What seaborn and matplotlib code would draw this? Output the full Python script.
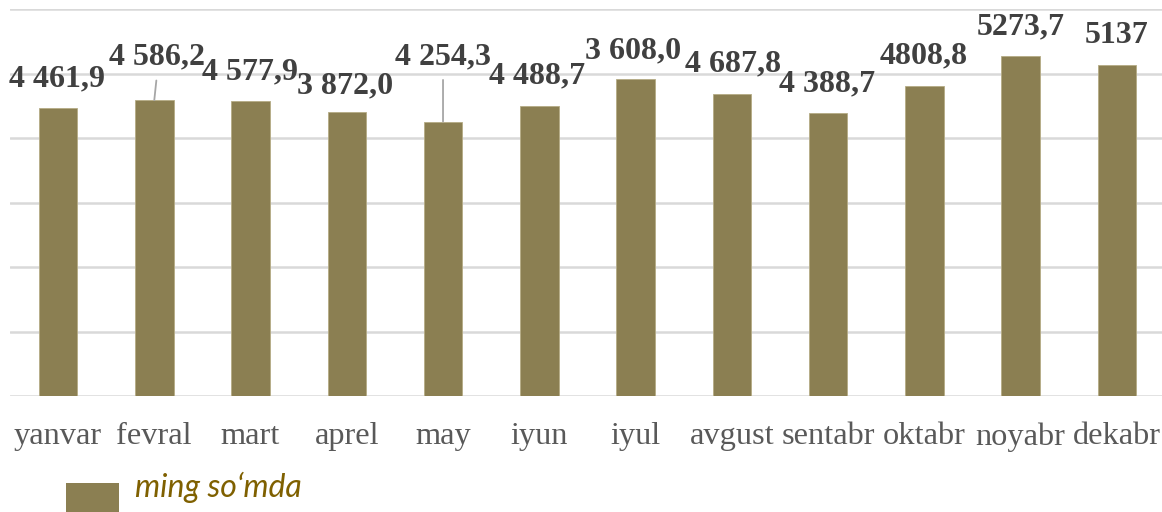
"""
Oylik ko'rsatkichlar (ming so'mda) ustunli diagrammasi.
"""
import matplotlib
matplotlib.use("Agg")
import matplotlib.pyplot as plt
from matplotlib.patches import Rectangle
import pandas as pd
import seaborn as sns

MONTHS = ["yanvar", "fevral", "mart", "aprel", "may", "iyun",
          "iyul", "avgust", "sentabr", "oktabr", "noyabr", "dekabr"]
# ustun balandliklari (rasmdan o'qilgan)
VALUES = [4461.9, 4586.2, 4577.9, 4397.0, 4254.3, 4488.7,
          4920.0, 4687.8, 4388.7, 4808.8, 5273.7, 5137.0]
# yozuvlar rasmdagidek
LABELS = ["4 461,9", "4 586,2", "4 577,9", "3 872,0", "4 254,3", "4 488,7",
          "3 608,0", "4 687,8", "4 388,7", "4808,8", "5273,7", "5137"]
SERIES = "ming so\u2018mda"

BAR_COLOR = "#8B7F52"
GRID_COLOR = "#D9D9D9"

# yozuvlarning ustun tepasidan siljishi (piksel)
LABEL_OFFSETS = [(-1, 29), (3, 43), (-1, 29), (-2, 26), (0, 65), (-2, 31),
                 (-2, 28), (1, 30), (-1, 29), (-1, 30), (0, 29), (0, 29)]
LEADERS = {1, 4}

df = pd.DataFrame({"oy": MONTHS, "qiymat": VALUES})

sns.set_theme(style="white")
plt.rcParams["font.family"] = ["Liberation Serif", "DejaVu Serif"]

DPI = 100
fig = plt.figure(figsize=(11.62, 5.12), dpi=DPI)
ax = fig.add_axes([9.9 / 1162, 1 - 396 / 512, 1155 / 1162, 387 / 512])

sns.barplot(data=df, x="oy", y="qiymat", color=BAR_COLOR, width=0.4,
            saturation=1, edgecolor="#B5AC85", linewidth=0.6, ax=ax)

ax.set_ylim(0, 6000)
ax.set_xlim(-0.5, len(MONTHS) - 0.5)
ax.set_yticks(range(0, 6001, 1000))
ax.yaxis.grid(True, color=GRID_COLOR, linewidth=1.8)
ax.set_axisbelow(True)
ax.set_yticklabels([])
ax.tick_params(axis="y", length=0)
ax.tick_params(axis="x", length=0, pad=19, labelsize=23.3, labelcolor="#595959")
ax.set_xlabel("")
ax.set_ylabel("")
for s in ax.spines.values():
    s.set_visible(False)

px = 72.0 / DPI
for i, (val, lab, (dx, dy)) in enumerate(zip(VALUES, LABELS, LABEL_OFFSETS)):
    kw = {}
    if i in LEADERS:
        kw["arrowprops"] = dict(arrowstyle="-", color="#A6A6A6", lw=1.3,
                                shrinkA=4, shrinkB=0, relpos=(0.5, 0.0))
    ax.annotate(lab, xy=(i, val), xytext=(dx * px, dy * px),
                textcoords="offset points", ha="center", va="center",
                fontsize=23, fontweight="bold", color="#404040", **kw)

# legenda
fig.add_artist(Rectangle((66 / 1162, 0), 53 / 1162, 29 / 512,
                         transform=fig.transFigure, facecolor=BAR_COLOR,
                         edgecolor="none"))
fig.text(135 / 1162, 1 - 497 / 512, SERIES, family=["Lato", "DejaVu Sans"],
         style="italic", fontsize=23, color="#7F6000", va="baseline", ha="left")

fig.savefig("out.png", dpi=DPI)
